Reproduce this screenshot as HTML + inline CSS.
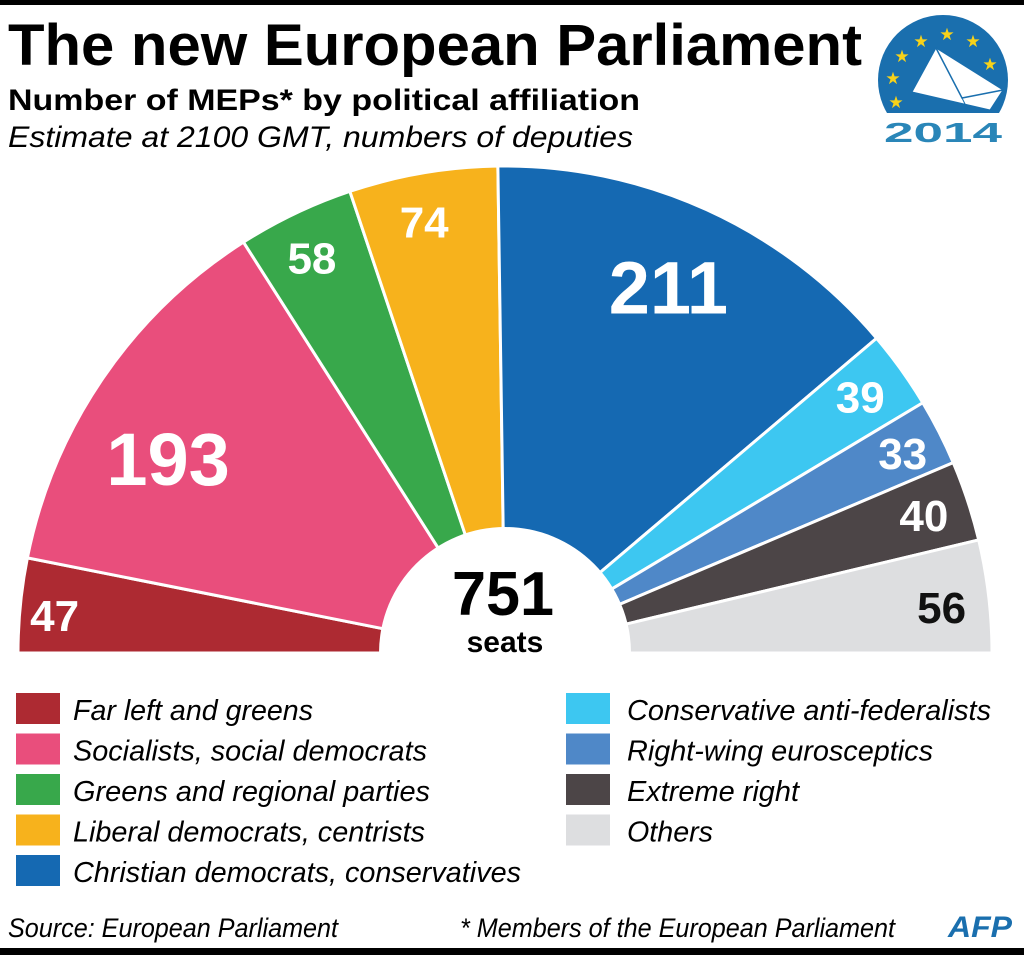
<!DOCTYPE html>
<html><head><meta charset="utf-8">
<style>
html,body{margin:0;padding:0;background:#fff;}
svg{display:block;}
text{font-family:"Liberation Sans",Arial,sans-serif;}
</style></head>
<body>
<svg id="chart" width="1024" height="955" viewBox="0 0 1024 955" xmlns="http://www.w3.org/2000/svg">
<rect x="0" y="0" width="1024" height="5" fill="#000"/>
<rect x="0" y="948" width="1024" height="7" fill="#000"/>
<text x="8" y="65" font-size="58" font-weight="bold" textLength="854" lengthAdjust="spacingAndGlyphs">The new European Parliament</text>
<text x="8" y="110" font-size="30" font-weight="bold" textLength="632" lengthAdjust="spacingAndGlyphs">Number of MEPs* by political affiliation</text>
<text x="8" y="147" font-size="30" font-style="italic" textLength="625" lengthAdjust="spacingAndGlyphs">Estimate at 2100 GMT, numbers of deputies</text>

<g>
<clipPath id="lc"><rect x="870" y="0" width="150" height="113"/></clipPath>
<circle cx="943" cy="80" r="65" fill="#1a6fae" clip-path="url(#lc)"/>
<polygon points="936,48 1003,90 990,110 912,92" fill="#fff" stroke="#1a6fae" stroke-width="1"/>
<polyline points="936,48 962,98 1003,90" fill="none" stroke="#1a6fae" stroke-width="1.5"/>
<polyline points="962,98 968,110" fill="none" stroke="#1a6fae" stroke-width="1"/>
<g fill="#f7d21a" font-size="17" text-anchor="middle">
<text x="921" y="47">★</text><text x="947" y="40">★</text><text x="973" y="47">★</text>
<text x="902" y="62">★</text><text x="990" y="70">★</text><text x="893" y="84">★</text><text x="896" y="108">★</text>
</g>
<text x="943" y="142" font-size="28" font-weight="bold" fill="#2a86b8" text-anchor="middle" textLength="118" lengthAdjust="spacingAndGlyphs">2014</text>
</g>

<g id="slices"></g>
<g id="labels"></g>
<circle cx="505" cy="653" r="126" fill="#fff"/>
<rect x="0" y="654" width="1024" height="30" fill="#fff"/>
<text x="503" y="615" font-size="62" font-weight="bold" text-anchor="middle" textLength="102" lengthAdjust="spacingAndGlyphs">751</text>
<text x="505" y="652" font-size="30" font-weight="bold" text-anchor="middle">seats</text>
<g id="legend"></g>

<text x="8" y="937" font-size="27" font-style="italic" textLength="330" lengthAdjust="spacingAndGlyphs">Source: European Parliament</text>
<text x="460" y="937" font-size="27" font-style="italic" textLength="435" lengthAdjust="spacingAndGlyphs">* Members of the European Parliament</text>
<text x="948" y="937" font-size="30" font-weight="bold" font-style="italic" fill="#1a6fae" textLength="64" lengthAdjust="spacingAndGlyphs">AFP</text>
</svg>
<script>
const groups = ["Far left and greens","Socialists, social democrats","Greens and regional parties","Liberal democrats, centrists","Christian democrats, conservatives","Conservative anti-federalists","Right-wing eurosceptics","Extreme right","Others"];
const seats = [47,193,58,74,211,39,33,40,56];
const colors = ["#ad2a32","#e94e7c","#38a84b","#f7b21c","#1569b2","#3dc7f1","#4f88c8","#4c4547","#dddee0"];
const labelColors = ["#fff","#fff","#fff","#fff","#fff","#fff","#fff","#fff","#111"];
const labelSizes = [44,74,44,44,74,44,44,44,44];
const labelRadius = [452,389,440,439,401,438,445,441,439];
const labelShift = [0.8,4.4,0.5,0.9,0.4,0.2,-0.3,0,-0.7];

const NS="http://www.w3.org/2000/svg";
const cx=505, cy=653, R=487;
const total = seats.reduce((a,b)=>a+b,0);
function angleAt(v){ return Math.PI - Math.PI*v/total; }
function pt(r,a){ return [cx+r*Math.cos(a), cy-r*Math.sin(a)]; }
const sG=document.getElementById('slices'), lG=document.getElementById('labels'), gL=document.getElementById('legend');
let cum=0;
seats.forEach((v,i)=>{
  const a0=angleAt(cum), a1=angleAt(cum+v), am=angleAt(cum+v/2)+labelShift[i]*Math.PI/180;
  const p0=pt(R,a0), p1=pt(R,a1);
  const p=document.createElementNS(NS,'path');
  p.setAttribute('d',`M${cx},${cy} L${p0[0]},${p0[1]} A${R},${R} 0 0 1 ${p1[0]},${p1[1]} Z`);
  p.setAttribute('fill',colors[i]); p.setAttribute('stroke','#fff'); p.setAttribute('stroke-width','3');
  
  
  sG.appendChild(p);
  const lp=pt(labelRadius[i],am);
  const t=document.createElementNS(NS,'text');
  t.setAttribute('x',lp[0]); t.setAttribute('y',lp[1]+labelSizes[i]*0.36);
  t.setAttribute('font-size',labelSizes[i]); t.setAttribute('font-weight','bold');
  t.setAttribute('fill',labelColors[i]); t.setAttribute('text-anchor','middle');
  t.textContent=v;
  
  
  lG.appendChild(t);
  cum+=v;
});
const legW=[240,354,357,352,448,364,306,172,86];
groups.forEach((g,i)=>{
  const col=i<5?0:1, row=i<5?i:i-5;
  const x0=col?566:16, y0=693+row*40.5;
  const r=document.createElementNS(NS,'rect');
  r.setAttribute('x',x0); r.setAttribute('y',y0); r.setAttribute('width',44); r.setAttribute('height',31);
  r.setAttribute('fill',colors[i]);
  
  
  gL.appendChild(r);
  const t=document.createElementNS(NS,'text');
  t.setAttribute('x',x0+(col?61:57)); t.setAttribute('y',y0+27);
  t.setAttribute('font-size','29'); t.setAttribute('font-style','italic');
  t.setAttribute('textLength',legW[i]); t.setAttribute('lengthAdjust','spacingAndGlyphs');
  t.textContent=g;
  
  
  gL.appendChild(t);
});
</script>
</body></html>
